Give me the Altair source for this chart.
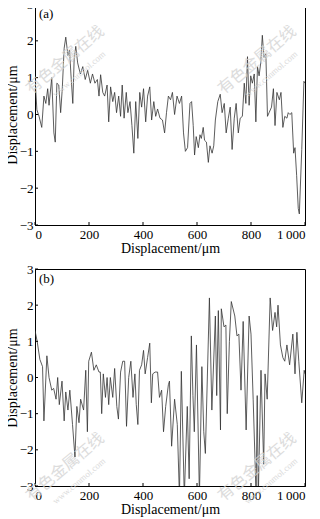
import altair as alt
import pandas as pd

# Panel (a) profile
xa = [0, 7, 15, 25, 33, 40, 47, 52, 62, 70, 75, 81, 88, 95, 101, 108, 114, 122, 128, 133,
      140, 145, 151, 158, 168, 177, 186, 195, 205, 213, 222, 231, 237, 243, 251, 258, 267, 273, 280, 288,
      295, 302, 310, 317, 323, 330, 338, 344, 352, 359, 366, 373, 381, 388, 395, 402, 410, 417, 425, 432,
      440, 447, 454, 463, 472, 480, 487, 494, 502, 509, 517, 526, 535, 543, 550, 557, 565, 574, 580, 586,
      591, 597, 605, 611, 616, 623, 628, 635, 642, 648, 656, 662, 668, 677, 686, 693, 701, 708, 716, 723,
      730, 738, 745, 753, 760, 768, 775, 781, 787, 793, 799, 805, 812, 818, 824, 830, 836, 842, 848, 855,
      861, 867, 876, 883, 889, 896, 905, 911, 918, 925, 933, 938, 944, 951, 958, 963, 969, 975, 979, 988,
      996, 1000]
ya = [1.0, 0.13, -0.05, -0.35, 0.5, 0.3, 0.7, 0.25, 1.0, -0.5, -0.75, 0.85, 0.8, 0.05, 0.7, 1.8, 2.1, 1.6, 1.75, 1.1,
      0.3, 1.5, 1.85, 1.4, 1.1, 1.3, 0.95, 1.2, 0.85, 1.1, 0.85, 0.95, 0.5, 1.08, 0.6, 0.5, 0.8, -0.2, 0.75, 0.35,
      0.6, 0.05, 0.5, -0.05, 0.8, -0.1, 0.6, 0.05, 0.35, -0.3, -1.05, 0.35, -0.65, 0.6, 0.2, 0.7, -0.2, 0.5, 0.75, -0.15,
      0.35, -0.05, 0.15, -0.1, -0.15, -0.5, 0.05, 0.5, 0.4, 0.6, 0.0, 0.5, 0.3, 0.5, -0.5, -1.0, -0.9, 0.3, 0.35, -0.3,
      -1.1, -0.6, -0.9, -0.55, -0.65, -0.35, -0.7, -0.75, -1.3, -0.85, -1.05, -0.85, -0.15, 0.35, 0.55, 0.05, 0.3, -0.5, -0.1, 0.2,
      -0.95, -0.1, 0.3, -0.5, -0.1, -0.05, 0.85, 0.3, 1.57, 0.25, 1.05, 0.85, 1.1, -0.2, 1.3, 1.05, 1.4, 2.15, 1.55, 1.65,
      -0.05, 0.05, 0.2, 0.7, -0.3, 0.6, 0.4, 0.6, -0.35, -0.05, -0.1, 0.05, 0.0, 0.05, -1.05, -0.9, -1.65, -2.55, -2.7, -0.95,
      0.9, 0.85]

# Panel (b) profile
xb = [0, 8, 18, 28, 33, 44, 52, 62, 69, 78, 84, 90, 100, 108, 114, 122, 129, 139, 148, 155,
      163, 169, 180, 188, 194, 199, 209, 218, 227, 237, 242, 247, 253, 261, 267, 273, 279, 288, 295, 303,
      309, 317, 325, 332, 339, 347, 355, 363, 370, 375, 381, 387, 395, 402, 408, 417, 425, 431, 436, 445,
      454, 461, 469, 476, 484, 494, 498, 506, 517, 527, 535, 542, 553, 564, 571, 579, 585, 590, 598, 609,
      618, 625, 631, 646, 655, 668, 673, 679, 687, 690, 700, 707, 712, 720, 727, 740, 748, 755, 763, 771,
      782, 793, 800, 808, 819, 823, 827, 837, 847, 852, 860, 871, 880, 889, 895, 900, 909, 918, 925, 933,
      943, 955, 963, 970, 977, 988, 997, 1000]
yb = [1.3, 1.0, 0.5, 0.3, -1.2, 0.6, 0.0, -0.35, -0.3, -0.6, 0.0, -0.75, -0.1, -1.2, -0.4, -0.9, -0.35, -1.3, -2.2, -0.8,
      -1.25, -0.6, -0.9, 0.2, -1.5, 0.45, 0.7, 0.2, 0.35, 0.15, 0.15, -1.0, 0.1, -0.55, 0.0, -0.75, 0.0, -0.55, 0.25, -0.8,
      -1.15, 0.15, 0.45, 0.45, -1.35, 0.0, 0.45, -0.55, 0.1, -0.75, -1.3, 0.2, 0.35, 0.75, 0.1, 0.55, 0.95, -0.7, 0.1, 0.15,
      0.15, -0.55, -0.35, -1.5, -0.8, -0.2, -0.1, -1.9, -0.6, -1.3, -3.3, 0.17, -3.3, -0.8, -2.8, 1.15, -0.5, -1.5, 0.9, -3.3,
      0.3, -1.5, -2.1, 2.2, -0.9, 1.7, -0.5, 1.85, -1.45, 1.9, 1.4, 1.45, -1.0, 1.0, 2.1, 1.7, 1.15, 1.2, -0.35, 1.55,
      -1.45, 1.7, 1.2, -0.6, -3.3, -0.5, -3.3, 0.2, -2.4, 0.1, -0.6, 2.2, 1.3, 1.8, 1.4, 2.0, 0.9, 0.55, 0.45, 0.9,
      0.35, 1.2, 0.1, 1.25, 0.45, -0.7, 0.2, 0.1]

x_ticks = [0, 200, 400, 600, 800, 1000]
y_ticks = [-3, -2, -1, 0, 1, 2, 3]
axis_title = "Displacement/\u03bcm"
wm_cn = "有色金属在线"
wm_en = "www.cnnmol.com"

W = 270
SERIF = "Liberation Serif"
AX = dict(labelFont=SERIF, labelFontSize=13, labelColor="black", titleFont=SERIF,
          titleFontSize=14, titleFontWeight="normal", titleColor="black",
          grid=False, ticks=False, domainColor="black", labelOverlap=False)
X_AXIS = alt.Axis(values=x_ticks, title=axis_title,
                  labelExpr="datum.value == 1000 ? '1\u2009000' : datum.label",
                  labelPadding=3, titlePadding=0, **AX)
Y_AXIS = alt.Axis(values=y_ticks, title=axis_title, labelPadding=2, titlePadding=0, **AX)
XS = alt.Scale(domain=[0, 1000], nice=False)
YS = alt.Scale(domain=[-3, 3], nice=False)


def panel(xs, ys, tag, h, wm_y):
    df = pd.DataFrame({"x": xs, "y": ys})
    line = alt.Chart(df).mark_line(color="#333333", strokeWidth=0.8, clip=True).encode(
        x=alt.X("x:Q", scale=XS, axis=X_AXIS),
        y=alt.Y("y:Q", scale=YS, axis=Y_AXIS),
    )
    xt = alt.Chart(pd.DataFrame({"x": x_ticks})).mark_rule(color="black", strokeWidth=1).encode(
        x=alt.X("x:Q", scale=XS, axis=X_AXIS), y=alt.value(h), y2=alt.value(h - 3))
    yt = alt.Chart(pd.DataFrame({"y": y_ticks})).mark_rule(color="black", strokeWidth=1).encode(
        y=alt.Y("y:Q", scale=YS, axis=Y_AXIS), x=alt.value(0), x2=alt.value(3))
    lab = alt.Chart(pd.DataFrame({"t": [tag]})).mark_text(
        font=SERIF, fontSize=13, align="left", baseline="middle", color="black").encode(
        text="t:N", x=alt.value(4), y=alt.value(10))
    wms = []
    for cx in (30, 222):
        wms.append(alt.Chart(pd.DataFrame({"t": [wm_cn]})).mark_text(
            font="Noto Sans CJK SC", fontSize=16, angle=320, color="#d4d4d4", opacity=0.8).encode(
            text="t:N", x=alt.value(cx), y=alt.value(wm_y)))
        wms.append(alt.Chart(pd.DataFrame({"t": [wm_en]})).mark_text(
            font=SERIF, fontSize=9, angle=320, color="#d4d4d4", opacity=0.8).encode(
            text="t:N", x=alt.value(cx + 14), y=alt.value(wm_y + 14)))
    return alt.layer(line, xt, yt, *wms, lab).properties(width=W, height=h)


chart = alt.vconcat(panel(xa, ya, "(a)", 221, 56), panel(xb, yb, "(b)", 217, 198), spacing=6).properties(
    padding={"left": -4, "top": -11, "right": 0, "bottom": 0}, background="white"
).configure_view(stroke="black", strokeWidth=1)

chart.save("out.html", embed_options={"renderer": "svg", "actions": False})
